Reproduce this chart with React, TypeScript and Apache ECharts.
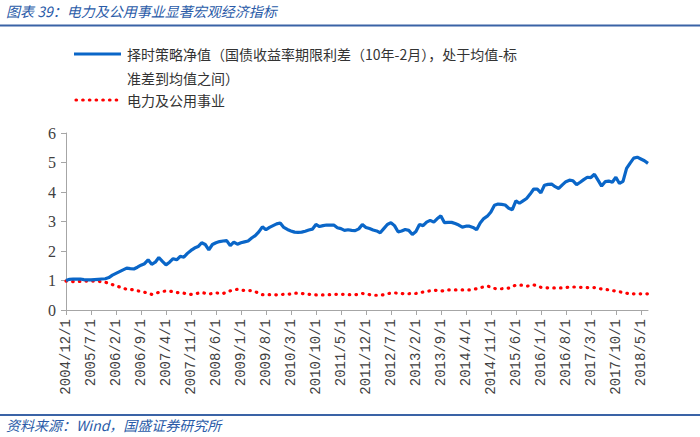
import React, { useEffect, useRef } from "react";
import * as echarts from "echarts";

// ---- Data ----
const START_YEAR = 2004;
const START_MONTH = 12;
const MONTH_COUNT = 164; // 2004/12 .. 2018/7

const categories: string[] = [];
for (let k = 0; k < MONTH_COUNT; k++) {
  const m0 = START_MONTH - 1 + k;
  const y = START_YEAR + Math.floor(m0 / 12);
  const m = (m0 % 12) + 1;
  categories.push(`${y}/${m}/1`);
}

const strategyName = "择时策略净值（国债收益率期限利差（10年-2月），处于均值-标准差到均值之间）";
const utilityName = "电力及公用事业";

const strategyValues: number[] = [
  1.00, 1.04, 1.05, 1.05, 1.05, 1.03, 1.02, 1.02, 1.03, 1.04,
  1.05, 1.06, 1.10, 1.18, 1.24, 1.30, 1.36, 1.42, 1.40, 1.39,
  1.45, 1.52, 1.57, 1.70, 1.55, 1.62, 1.78, 1.65, 1.53, 1.62,
  1.74, 1.70, 1.82, 1.79, 1.92, 2.02, 2.10, 2.15, 2.28, 2.22,
  2.04, 2.22, 2.28, 2.32, 2.34, 2.35, 2.18, 2.30, 2.23, 2.28,
  2.31, 2.34, 2.44, 2.52, 2.65, 2.82, 2.72, 2.80, 2.86, 2.92,
  2.95, 2.80, 2.73, 2.68, 2.64, 2.63, 2.64, 2.67, 2.71, 2.74,
  2.90, 2.83, 2.86, 2.88, 2.88, 2.88, 2.79, 2.76, 2.70, 2.72,
  2.70, 2.69, 2.75, 2.90, 2.80, 2.76, 2.71, 2.68, 2.62, 2.76,
  2.90, 2.96, 2.86, 2.65, 2.68, 2.73, 2.70, 2.56, 2.66, 2.90,
  2.86, 2.98, 3.04, 2.98, 3.10, 3.19, 2.96, 2.97, 2.97, 2.93,
  2.88, 2.81, 2.84, 2.84, 2.80, 2.72, 2.95, 3.10, 3.18, 3.32,
  3.55, 3.59, 3.58, 3.56, 3.45, 3.40, 3.70, 3.62, 3.70, 3.78,
  3.93, 4.10, 4.10, 3.97, 4.23, 4.26, 4.27, 4.18, 4.12, 4.24,
  4.35, 4.40, 4.38, 4.25, 4.33, 4.42, 4.50, 4.49, 4.60, 4.40,
  4.20, 4.35, 4.37, 4.33, 4.50, 4.29, 4.36, 4.80, 4.98, 5.15,
  5.18, 5.12, 5.06, 4.97,
];

const utilityValues: number[] = [
  0.98, 0.97, 0.96, 0.97, 0.97, 0.98, 0.98, 0.98, 0.98, 0.97,
  0.96, 0.94, 0.91, 0.86, 0.82, 0.78, 0.74, 0.70, 0.70, 0.68,
  0.65, 0.63, 0.60, 0.57, 0.53, 0.56, 0.60, 0.63, 0.64, 0.64,
  0.62, 0.59, 0.58, 0.57, 0.55, 0.53, 0.55, 0.57, 0.59, 0.57,
  0.54, 0.56, 0.58, 0.57, 0.56, 0.60, 0.65, 0.68, 0.70, 0.67,
  0.66, 0.66, 0.66, 0.62, 0.57, 0.52, 0.52, 0.52, 0.52, 0.51,
  0.52, 0.53, 0.53, 0.54, 0.57, 0.57, 0.56, 0.55, 0.53, 0.52,
  0.51, 0.51, 0.51, 0.52, 0.52, 0.53, 0.53, 0.53, 0.53, 0.52,
  0.52, 0.52, 0.53, 0.56, 0.55, 0.52, 0.50, 0.50, 0.50, 0.52,
  0.55, 0.57, 0.58, 0.57, 0.56, 0.55, 0.55, 0.56, 0.56, 0.58,
  0.61, 0.63, 0.65, 0.67, 0.66, 0.64, 0.66, 0.68, 0.68, 0.68,
  0.68, 0.68, 0.68, 0.68, 0.70, 0.72, 0.76, 0.78, 0.81, 0.78,
  0.73, 0.72, 0.72, 0.73, 0.74, 0.80, 0.84, 0.84, 0.84, 0.81,
  0.82, 0.85, 0.82, 0.77, 0.76, 0.75, 0.75, 0.75, 0.75, 0.75,
  0.76, 0.78, 0.78, 0.78, 0.77, 0.77, 0.76, 0.76, 0.76, 0.74,
  0.71, 0.70, 0.68, 0.66, 0.64, 0.62, 0.59, 0.57, 0.54, 0.55,
  0.55, 0.55, 0.55, 0.55,
];

const yTicks = { min: 0, max: 6, interval: 1 };
const titleText = "图表 39：电力及公用事业显著宏观经济指标";
const sourceText = "资料来源：Wind，国盛证券研究所";
const legendLine1 = "择时策略净值（国债收益率期限利差（10年-2月），处于均值-标";
const legendLine2 = "准差到均值之间）";

const BLUE = "#0A66C8";
const RED = "#FF0000";
const RULE = "#3A63A6";
const CJK = '"Noto Sans CJK SC", sans-serif';

export default function App() {
  const ref = useRef<HTMLDivElement>(null);
  useEffect(() => {
    if (!ref.current) return;
    const chart = echarts.init(ref.current, undefined, { renderer: "svg" });
    chart.setOption({
      animation: false,
      backgroundColor: "#ffffff",
      grid: { left: 66, right: 52, top: 133, bottom: 127, containLabel: false },
      xAxis: {
        type: "category",
        data: categories,
        boundaryGap: false,
        axisLine: { lineStyle: { color: "#A6A6A6", width: 1 } },
        axisTick: { show: true, interval: 6, length: 5, lineStyle: { color: "#A6A6A6" } },
        axisLabel: {
          interval: 6,
          rotate: 90,
          margin: 9,
          color: "#404040",
          fontFamily: '"Liberation Mono", monospace',
          fontSize: 14,
        },
        splitLine: { show: false },
      },
      yAxis: {
        type: "value",
        min: yTicks.min,
        max: yTicks.max,
        interval: yTicks.interval,
        axisLine: { show: true, lineStyle: { color: "#A6A6A6", width: 1 } },
        axisTick: { show: true, length: 5, lineStyle: { color: "#A6A6A6" } },
        axisLabel: {
          margin: 10,
          color: "#404040",
          fontFamily: '"Liberation Serif", serif',
          fontSize: 16,
        },
        splitLine: { show: false },
      },
      legend: { show: false },
      series: [
        {
          name: strategyName,
          type: "line",
          data: strategyValues,
          showSymbol: false,
          symbol: "none",
          lineStyle: { color: BLUE, width: 3.2 },
          z: 3,
        },
        {
          name: utilityName,
          type: "line",
          data: utilityValues,
          showSymbol: false,
          symbol: "none",
          lineStyle: { color: RED, width: 3.2, type: [0.5, 6.2], cap: "round" },
          z: 2,
        },
      ],
      graphic: [
        {
          type: "text",
          left: 6,
          top: 4,
          style: {
            text: titleText,
            fill: "#2A5BA8",
            font: `italic 14px ${CJK}`,
          },
        },
        {
          type: "line",
          shape: { x1: 0, y1: 25.5, x2: 700, y2: 25.5 },
          style: { stroke: RULE, lineWidth: 2 },
        },
        {
          type: "line",
          shape: { x1: 0, y1: 415, x2: 700, y2: 415 },
          style: { stroke: RULE, lineWidth: 2 },
        },
        {
          type: "text",
          left: 6,
          top: 418,
          style: {
            text: sourceText,
            fill: "#2A5BA8",
            font: `italic 14px ${CJK}`,
          },
        },
        {
          type: "line",
          shape: { x1: 74, y1: 54, x2: 121, y2: 54 },
          style: { stroke: BLUE, lineWidth: 3.2 },
        },
        {
          type: "text",
          x: 127,
          y: 54,
          style: {
            text: legendLine1,
            fill: "#333333",
            font: `14px ${CJK}`,
            verticalAlign: "middle",
          },
        },
        {
          type: "text",
          x: 127,
          y: 78,
          style: {
            text: legendLine2,
            fill: "#333333",
            font: `14px ${CJK}`,
            verticalAlign: "middle",
          },
        },
        {
          type: "line",
          shape: { x1: 76, y1: 100, x2: 117, y2: 100 },
          style: { stroke: RED, lineWidth: 3.2, lineDash: [0.5, 6.2], lineCap: "round" },
        },
        {
          type: "text",
          x: 127,
          y: 100,
          style: {
            text: utilityName,
            fill: "#333333",
            font: `14px ${CJK}`,
            verticalAlign: "middle",
          },
        },
      ],
    });
    return () => chart.dispose();
  }, []);
  return (
    <div
      ref={ref}
      style={{ position: "fixed", left: 0, top: 0, width: 700, height: 437, background: "#fff" }}
    />
  );
}
